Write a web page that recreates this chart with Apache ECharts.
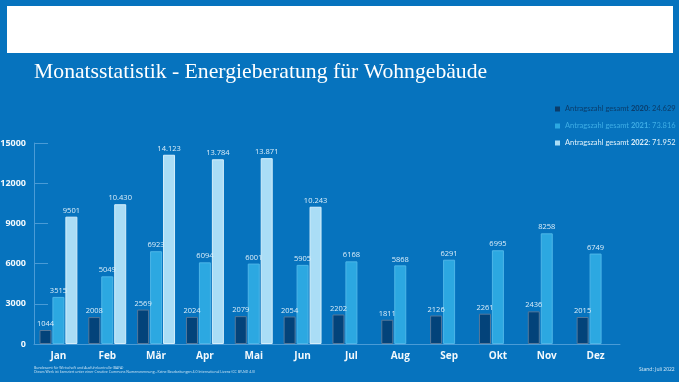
<!DOCTYPE html>
<html><head><meta charset="utf-8">
<script src="https://cdn.jsdelivr.net/npm/echarts@6/dist/echarts.min.js"></script>
<style>html,body{margin:0;padding:0;background:#0673BE;}#c{width:679px;height:382px;}</style>
</head><body><div id="c"></div>
<script>
const months = ['Jan','Feb','Mär','Apr','Mai','Jun','Jul','Aug','Sep','Okt','Nov','Dez'];
const v2020 = [1044,2008,2569,2024,2079,2054,2202,1811,2126,2261,2436,2015];
const v2021 = [3515,5049,6923,6094,6001,5905,6168,5868,6291,6995,8258,6749];
const v2022 = [9501,10430,14123,13784,13871,10243,null,null,null,null,null,null];
const seriesNames = ['2020','2021','2022'];
const totals = ['24.629','73.816','71.952'];
const yTicks = [0,3000,6000,9000,12000,15000];

const colors = ['#03437A','#2CA8E1','#AADDF6'];
const borders = ['#56789A','#4DB6E8','#D4EEFB'];
const legendTextColors = ['#0B3C6A','#3FAEE6','#E3F3FC'];

function fmt(v){
  if (v == null) return '';
  return v >= 10000 ? String(v).replace(/\B(?=(\d{3})+(?!\d))/g,'.') : String(v);
}

const chart = echarts.init(document.getElementById('c'), null, {renderer:'canvas'});
const dataSets = [v2020, v2021, v2022];
const rich = {};
seriesNames.forEach((n,i)=>{
  rich['a'+i] = {color: legendTextColors[i], fontSize: 7.5, fontFamily: 'Lato'};
  rich['b'+i] = {color: legendTextColors[i], fontSize: 7.5, fontFamily: 'Lato', fontWeight: 'bold'};
});

chart.setOption({
  backgroundColor: '#0673BE',
  animation: false,
  graphic: [
    {type:'rect', shape:{x:7,y:6,width:666,height:47}, style:{fill:'#ffffff'}},
    {type:'text', left:34, top:61, style:{text:'Monatsstatistik - Energieberatung für Wohngebäude', fill:'#ffffff', font:'21.7px "Liberation Serif"'}},
    {type:'text', left:34, top:366, style:{text:'Bundesamt für Wirtschaft und Ausfuhrkontrolle (BAFA)', fill:'#cfe6f5', font:'3.5px "Open Sans"'}},
    {type:'text', left:34, top:369.5, style:{text:'Dieses Werk ist lizenziert unter einer Creative Commons Namensnennung - Keine Bearbeitungen 4.0 International Lizenz (CC BY-ND 4.0)', fill:'#cfe6f5', font:'3.5px "Open Sans"'}},
    {type:'text', left:639, top:367.5, style:{text:'Stand: Juli 2022', fill:'#dcedf8', font:'5px "Open Sans"'}}
  ],
  legend: {
    orient: 'vertical',
    left: 550, top: 100,
    itemWidth: 5, itemHeight: 5, itemGap: 9,
    icon: 'rect',
    data: seriesNames.map((n,i)=>({name:n, itemStyle:{color: i===0 ? '#0B3C6A' : colors[i], borderWidth:0}})),
    formatter: function(name){
      const i = seriesNames.indexOf(name);
      return '{a'+i+'|Antragszahl gesamt }{b'+i+'|'+name+'}{a'+i+'|: '+totals[i]+'}';
    },
    textStyle: {rich: rich}
  },
  grid: {left:34, right:59, top:143, bottom:38, containLabel:false, outerBoundsMode:'none'},
  xAxis: {
    type:'category', data: months,
    axisLine:{lineStyle:{color:'#4A9BD6', width:1}},
    axisTick:{inside:true, length:6, lineStyle:{color:'#4A9BD6'}},
    axisLabel:{color:'#F2F8FC', fontSize:10, fontWeight:'bold', fontFamily:'Open Sans', margin:7}
  },
  yAxis: {
    type:'value', min:yTicks[0], max:yTicks[yTicks.length-1], interval:3000,
    axisLine:{show:true, lineStyle:{color:'#4A9BD6'}},
    axisTick:{show:true, inside:true, length:14, lineStyle:{color:'#4A9BD6'}},
    splitLine:{show:false},
    axisLabel:{color:'#F2F8FC', fontSize:9, fontWeight:'bold', fontFamily:'Open Sans', margin:8, formatter: v => String(v)}
  },
  series: dataSets.map((d,i)=>({
    name: seriesNames[i], type:'bar', data: d,
    barWidth: 12, barGap: '8%',
    itemStyle:{color: colors[i], borderColor: borders[i], borderWidth: 1},
    label:{show:true, position:'top', distance:2, color:'#DCEEF9', fontSize:7.5, fontFamily:'Open Sans',
      formatter: p => fmt(p.value)}
  }))
});
</script></body></html>
